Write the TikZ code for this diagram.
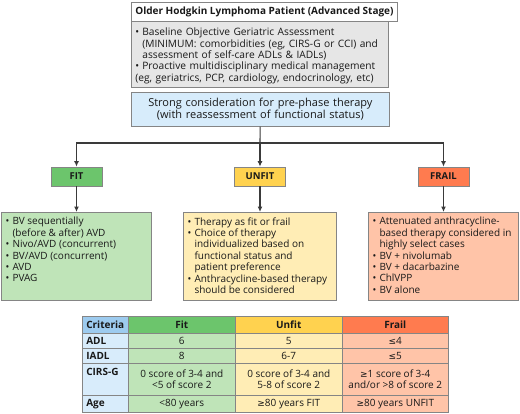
\documentclass[tikz,border=0pt]{standalone}
\usepackage{fontspec}
\setmainfont{Open Sans}
\newfontfamily\symfont{DejaVu Sans}
\usetikzlibrary{arrows.meta}

\definecolor{lineclr}{HTML}{3A3A3A}
\definecolor{boxline}{HTML}{858585}
\definecolor{grayfill}{HTML}{E6E6E6}
\definecolor{bluefill}{HTML}{D7ECFB}
\definecolor{fitdark}{HTML}{6CC56C}
\definecolor{fitlight}{HTML}{BFE4B8}
\definecolor{unfitdark}{HTML}{FFD24F}
\definecolor{unfitlight}{HTML}{FFEDB5}
\definecolor{fraildark}{HTML}{FF7B4F}
\definecolor{fraillight}{HTML}{FFC4A8}
\definecolor{critdark}{HTML}{9DCBEF}
\definecolor{critlight}{HTML}{D8ECFB}

\newcommand{\itm}{\par\hangindent=7pt\hangafter=1\noindent\makebox[7pt][l]{\textbullet}}
\newcommand{\lesym}{{\symfont\small ≤}}
\newcommand{\gesym}{{\symfont\small ≥}}
\newcommand{\listtext}[2]{\parbox[t][78pt][t]{#1}{\raggedright #2}}

\begin{document}
\begin{tikzpicture}[x=1pt, y=-1pt,
    >={Latex[length=5.5pt,width=5pt]},
    every node/.style={font=\fontsize{10}{11.4}\selectfont, text=black!90},
    panel/.style={draw=boxline, line width=0.7pt, anchor=north west, inner xsep=4pt},
    tag/.style={draw=boxline, line width=0.7pt, minimum width=51pt, minimum height=19pt, inner sep=0pt, font=\fontsize{9.5}{11}\selectfont\bfseries},
    list/.style={draw=boxline, line width=0.7pt, anchor=north, inner xsep=4pt, inner ysep=5pt},
    tcell/.style={draw=boxline, line width=0.6pt, anchor=north west, inner sep=0pt, align=center, font=\fontsize{10}{11.5}\selectfont},
    conn/.style={draw=lineclr, line width=1.1pt}]

    \useasboundingbox (0,0) rectangle (520,413);

    % Top boxes
    \node[panel, fill=white, minimum width=257pt, minimum height=19pt, font=\fontsize{10}{12}\selectfont\bfseries] (title) at (131,2) {Older Hodgkin Lymphoma Patient (Advanced Stage)};
    \node[panel, fill=grayfill, text width=249pt, minimum height=65pt, align=left, font=\fontsize{10.2}{11.3}\selectfont] (assess) at (131,21)
        {\itm Baseline Objective Geriatric Assessment\newline \mbox{(MINIMUM: comorbidities (eg, CIRS-G or CCI) and}\newline assessment of self-care ADLs \& IADLs)
         \itm Proactive multidisciplinary medical management\newline \mbox{(eg, geriatrics, PCP, cardiology, endocrinology, etc)}};
    \node[panel, fill=bluefill, text width=250pt, minimum height=34pt, align=center, font=\fontsize{11}{11.8}\selectfont] (pre) at (131,92)
        {Strong consideration for pre-phase therapy\\(with reassessment of functional status)};

    % Categories
    \node[tag, fill=fitdark] (fit) at (76.5,176.5) {FIT};
    \node[tag, fill=unfitdark] (unfit) at (260,176.5) {UNFIT};
    \node[tag, fill=fraildark] (frail) at (443.5,176.5) {FRAIL};

    \node[list, fill=fitlight] (fitbox) at (76.5,212)
        {\listtext{142pt}{\itm BV sequentially\newline (before \& after) AVD
         \itm Nivo/AVD (concurrent)
         \itm BV/AVD (concurrent)
         \itm AVD
         \itm PVAG}};
    \node[list, fill=unfitlight] (unfitbox) at (260,212)
        {\listtext{145pt}{\itm Therapy as fit or frail
         \itm Choice of therapy\newline individualized based on\newline functional status and\newline patient preference
         \itm Anthracycline-based therapy\newline should be considered}};
    \node[list, fill=fraillight] (frailbox) at (443.5,212)
        {\listtext{142pt}{\itm Attenuated anthracycline-\newline based therapy considered in\newline highly select cases
         \itm BV + nivolumab
         \itm BV + dacarbazine
         \itm ChlVPP
         \itm BV alone}};

    % Connectors
    \coordinate (split) at (260,143);
    \draw[conn] (pre) -- (split);
    \draw[conn, ->] (split) -| (fit);
    \draw[conn, ->] (split) -- (unfit);
    \draw[conn, ->] (split) -| (frail);
    \draw[conn, ->] (fit) -- (fitbox);
    \draw[conn, ->] (unfit) -- (unfitbox);
    \draw[conn, ->] (frail) -- (frailbox);

    % Criteria table
    \node[tcell, fill=critdark, minimum width=46pt, minimum height=17pt, text width=38pt, align=left] (hcrit) at (82,316) {\textbf{Criteria}};
    \node[tcell, fill=fitdark, minimum width=107pt, minimum height=17pt] (hfit) at (128,316) {\textbf{Fit}};
    \node[tcell, fill=unfitdark, minimum width=107pt, minimum height=17pt] (hunfit) at (235,316) {\textbf{Unfit}};
    \node[tcell, fill=fraildark, minimum width=106pt, minimum height=17pt] (hfrail) at (342,316) {\textbf{Frail}};

    \node[tcell, fill=critlight, minimum width=46pt, minimum height=15pt, text width=38pt, align=left] (adl) at (82,333) {\textbf{ADL}};
    \node[tcell, fill=fitlight, minimum width=107pt, minimum height=15pt] (adlfit) at (128,333) {6};
    \node[tcell, fill=unfitlight, minimum width=107pt, minimum height=15pt] (adlunfit) at (235,333) {5};
    \node[tcell, fill=fraillight, minimum width=106pt, minimum height=15pt] (adlfrail) at (342,333) {\lesym4};

    \node[tcell, fill=critlight, minimum width=46pt, minimum height=15pt, text width=38pt, align=left] (iadl) at (82,348) {\textbf{IADL}};
    \node[tcell, fill=fitlight, minimum width=107pt, minimum height=15pt] (iadlfit) at (128,348) {8};
    \node[tcell, fill=unfitlight, minimum width=107pt, minimum height=15pt] (iadlunfit) at (235,348) {6-7};
    \node[tcell, fill=fraillight, minimum width=106pt, minimum height=15pt] (iadlfrail) at (342,348) {\lesym5};

    \node[tcell, fill=critlight, minimum width=46pt] (cirs) at (82,363) {\parbox[c][32pt][t]{38pt}{\vspace{5pt}\textbf{CIRS-G}}};
    \node[tcell, fill=fitlight, minimum width=107pt, minimum height=32pt] (cirsfit) at (128,363) {0 score of 3-4 and\\<5 of score 2};
    \node[tcell, fill=unfitlight, minimum width=107pt, minimum height=32pt] (cirsunfit) at (235,363) {0 score of 3-4 and\\5-8 of score 2};
    \node[tcell, fill=fraillight, minimum width=106pt, minimum height=32pt] (cirsfrail) at (342,363) {\gesym1 score of 3-4\\and/or >8 of score 2};

    \node[tcell, fill=critlight, minimum width=46pt, minimum height=17pt, text width=38pt, align=left] (age) at (82,395) {\textbf{Age}};
    \node[tcell, fill=fitlight, minimum width=107pt, minimum height=17pt] (agefit) at (128,395) {<80 years};
    \node[tcell, fill=unfitlight, minimum width=107pt, minimum height=17pt] (ageunfit) at (235,395) {\gesym80 years FIT};
    \node[tcell, fill=fraillight, minimum width=106pt, minimum height=17pt] (agefrail) at (342,395) {\gesym80 years UNFIT};
\end{tikzpicture}
\end{document}
